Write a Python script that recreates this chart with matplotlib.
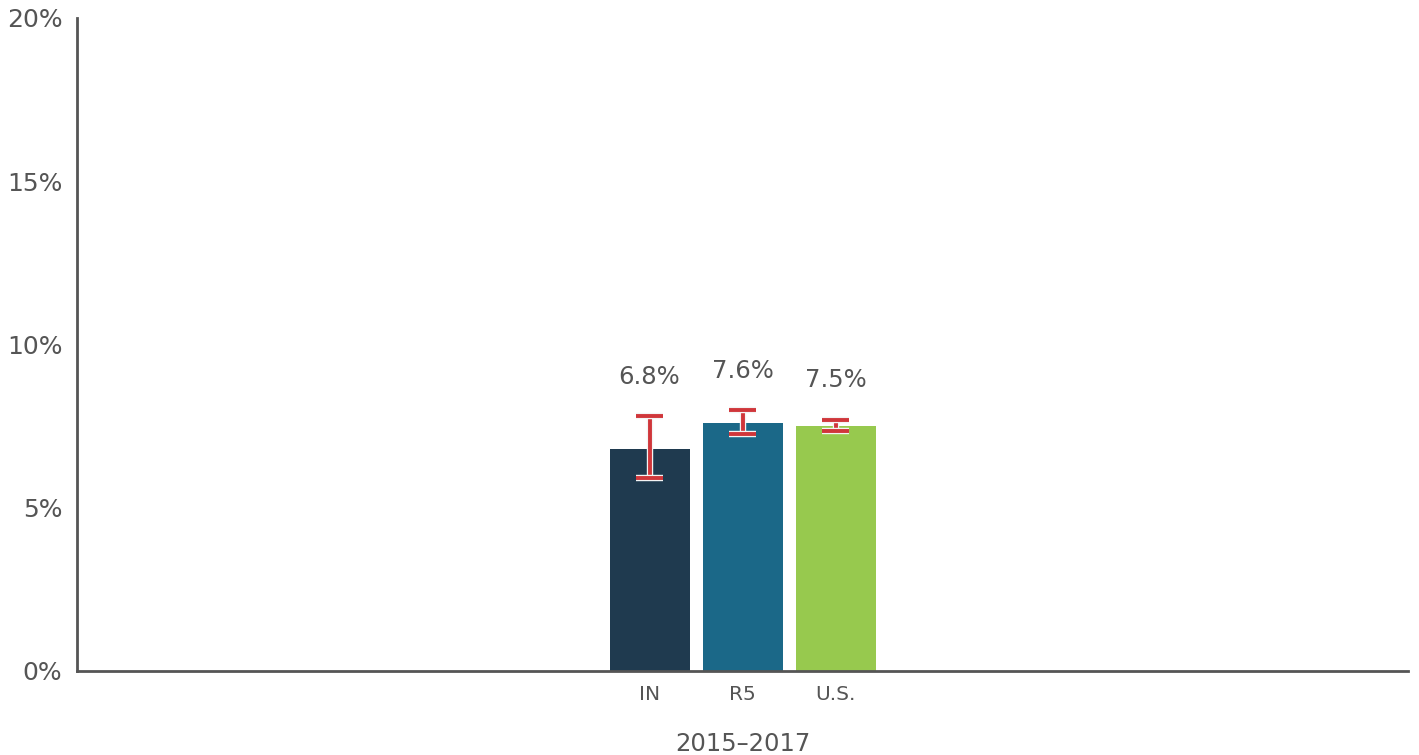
import matplotlib.pyplot as plt
import matplotlib.patheffects as pe
import numpy as np

# datos
regiones = ["IN", "R5", "U.S."]
valores = [6.8, 7.6, 7.5]
ic_inferior = [5.9, 7.25, 7.35]
ic_superior = [7.8, 8.0, 7.7]
colores = ["#1f3a4f", "#1b6888", "#97c94e"]
periodo = "2015–2017"
yticks = [0, 5, 10, 15, 20]

gris = "#555555"

fig = plt.figure(figsize=(14.19, 7.55), dpi=100)
ax = fig.add_axes([0.0543, 0.1113, 0.938, 0.865])

x = np.arange(len(regiones))
ax.bar(x, valores, width=0.86, color=colores, zorder=2)

err = [np.array(valores) - np.array(ic_inferior), np.array(ic_superior) - np.array(valores)]
_, caps, barras = ax.errorbar(x, valores, yerr=err, fmt="none", ecolor="#d0363a",
                              elinewidth=2.8, capsize=9.5, capthick=2.8, zorder=3)
efecto = [pe.Stroke(linewidth=4.6, foreground="#f4f4f4"), pe.Normal()]
for c in caps:
    c.set_path_effects(efecto)
for b in barras:
    b.set_path_effects(efecto)

for xi, v, s in zip(x, valores, ic_superior):
    ax.text(xi, s + 1.2, f"{v:.1f}%", ha="center", va="center", fontsize=17.5, color=gris)

ax.set_xlim(1 - 7.156, 1 + 7.156)
ax.set_ylim(0, 20)
ax.set_yticks(yticks)
ax.set_yticklabels([f"{t}%" for t in yticks], fontsize=18, color=gris)
ax.set_xticks(x)
ax.set_xticklabels(regiones, fontsize=14.5, color=gris)
ax.tick_params(length=0, pad=10)
ax.tick_params(axis="y", pad=10.5)
ax.set_xlabel(periodo, fontsize=17.5, color=gris, labelpad=20)

for lado in ["top", "right"]:
    ax.spines[lado].set_visible(False)
for lado in ["left", "bottom"]:
    ax.spines[lado].set_color(gris)
    ax.spines[lado].set_linewidth(2)

fig.savefig("out.png", dpi=100)
